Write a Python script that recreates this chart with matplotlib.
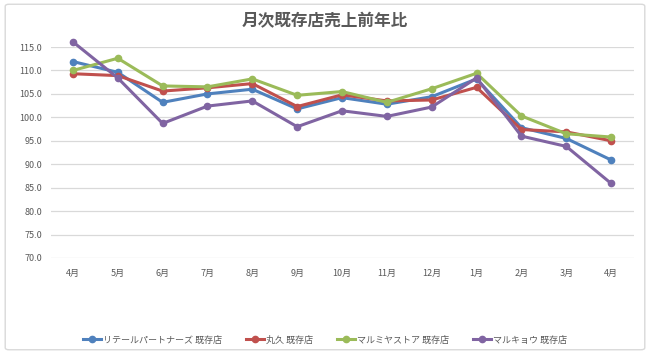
import matplotlib
matplotlib.use('Agg')
import matplotlib.pyplot as plt
from matplotlib.patches import FancyBboxPatch

plt.rcParams['font.family'] = ['Noto Sans CJK JP', 'DejaVu Sans']

months = ['4月', '5月', '6月', '7月', '8月', '9月', '10月', '11月', '12月',
          '1月', '2月', '3月', '4月']

retail = [111.9, 109.6, 103.2, 105.0, 106.0, 101.8, 104.2, 102.8, 104.4,
          108.2, 97.8, 95.5, 90.9]
marukyu = [109.3, 108.9, 105.6, 106.3, 107.2, 102.3, 104.8, 103.5, 103.7,
           106.4, 97.4, 96.9, 95.0]
marumiya = [110.0, 112.6, 106.7, 106.5, 108.2, 104.7, 105.5, 103.2, 106.1,
            109.4, 100.3, 96.5, 95.8]
marukyou = [116.1, 108.4, 98.7, 102.4, 103.5, 98.0, 101.4, 100.2, 102.2,
            108.4, 96.0, 93.8, 85.9]

series = [
    ('リテールパートナーズ 既存店', retail, '#4F81BD'),
    ('丸久 既存店', marukyu, '#C0504D'),
    ('マルミヤストア 既存店', marumiya, '#9BBB59'),
    ('マルキョウ 既存店', marukyou, '#8064A2'),
]

fig = plt.figure(figsize=(6.5, 3.54), dpi=100)
ax = fig.add_axes([0.0777, 0.2712, 0.897, 0.596])

x = list(range(len(months)))
for name, vals, col in series:
    ax.plot(x, vals, color=col, lw=2.2, marker='o', ms=4.5, label=name,
            clip_on=False, zorder=3)

ax.set_xlim(-0.5, len(months) - 0.5)
ax.set_ylim(70, 115)
ax.set_yticks([70 + 5 * i for i in range(10)])
ax.set_yticklabels(['%.1f' % (70 + 5 * i) for i in range(10)])
ax.set_xticks(x)
ax.set_xticklabels(months)
ax.grid(axis='y', color='#D9D9D9', lw=0.9)
ax.set_axisbelow(True)
for s in ax.spines.values():
    s.set_visible(False)
ax.tick_params(length=0, labelsize=6.5, colors='#595959', pad=8)
ax.tick_params(axis='y', pad=6)

fig.text(0.5, 0.94, '月次既存店売上前年比', ha='center', va='center',
         fontsize=12, fontweight='bold', color='#595959')

leg = fig.legend(loc='center', bbox_to_anchor=(0.5, 0.04), ncol=4,
                 frameon=False, fontsize=6.5, handlelength=2.0,
                 columnspacing=2.7, handletextpad=0.2)
for t in leg.get_texts():
    t.set_color('#595959')

border = FancyBboxPatch((0.008, 0.012), 0.984, 0.976,
                        boxstyle='round,pad=0,rounding_size=0.006',
                        transform=fig.transFigure, fill=False,
                        edgecolor='#D9D9D9', lw=1)
fig.patches.append(border)

fig.savefig('out.png', dpi=100)
